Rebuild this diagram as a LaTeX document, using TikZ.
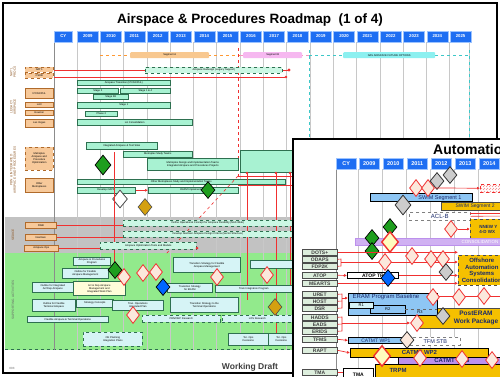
\documentclass[tikz,border=0pt]{standalone}
\usepackage{fontspec}
\setmainfont{Liberation Sans}
\usetikzlibrary{shapes.geometric,arrows.meta,patterns}
\definecolor{hdrblue}{HTML}{1E6EF2}
\definecolor{hdrline}{HTML}{9CC3FF}
\definecolor{mint}{HTML}{A8F2D2}
\definecolor{mintdark}{HTML}{2E7050}
\definecolor{orfill}{HTML}{F7C99A}
\definecolor{ordark}{HTML}{B06A2A}
\definecolor{bandgray}{HTML}{C2C2C2}
\definecolor{bandgreen}{HTML}{92EA8C}
\definecolor{cyanbox}{HTML}{D6F4F6}
\definecolor{gridgray}{HTML}{C8C8C8}
\definecolor{cyanline}{HTML}{3CC8C8}
\definecolor{segA}{HTML}{F8C890}
\definecolor{segB}{HTML}{F6B8F0}
\definecolor{segC}{HTML}{8CF0F0}
\definecolor{ryellow}{HTML}{F5C000}
\definecolor{rblue}{HTML}{8EC6F4}
\definecolor{rpurple}{HTML}{BC90EC}
\definecolor{lblgreen}{HTML}{DDEEDD}
\definecolor{dgreen}{HTML}{1E9E1E}
\definecolor{gold}{HTML}{D4A010}
\definecolor{redl}{HTML}{F03030}
\definecolor{pinkd}{HTML}{FBE8DC}
\definecolor{navy}{HTML}{1A2A6A}
\newcommand\tf{\fontsize{2.6}{3}\selectfont}
\newcommand\mkbox[7]{\node[#2,anchor=north west,inner sep=0pt,minimum width={#5pt-#3pt},minimum height={#6pt-#4pt}] (#1) at (#3,#4) {#7};}
\tikzset{
  yr/.style={fill=hdrblue,draw=hdrline,line width=0.6pt,text=white,font=\fontsize{4.3}{5}\selectfont\bfseries},
  yrf/.style={fill=hdrblue,draw=hdrline,line width=0.6pt,text=white,font=\fontsize{5.5}{6}\selectfont\bfseries},
  mintbox/.style={draw=mintdark,fill=mint,line width=0.6pt,font=\tf,align=center},
  mintdash/.style={draw=mintdark,fill=mint!60,dashed,line width=0.6pt,font=\tf,align=center},
  orbox/.style={draw=ordark,fill=orfill,line width=0.6pt,font=\tf,align=center},
  ordash/.style={draw=ordark,fill=orfill,dashed,line width=0.6pt,font=\tf,align=center},
  cybox/.style={draw=mintdark,fill=cyanbox,line width=0.7pt,font=\tf,align=center},
  cydash/.style={draw=mintdark,fill=cyanbox,dashed,line width=0.7pt,font=\tf,align=center},
  segbar/.style={rounded corners=1pt,font=\tf,align=center},
  dgr/.style={diamond,draw=black,fill=dgreen,line width=0.7pt,inner sep=0pt,minimum width=14,minimum height=17},
  dwh/.style={diamond,draw=black!70,fill=white,line width=0.8pt,inner sep=0pt,minimum width=15,minimum height=18},
  dgold/.style={diamond,draw=black!70,fill=gold,line width=0.6pt,inner sep=0pt,minimum width=14,minimum height=17},
  dpink/.style={diamond,draw=redl,fill=pinkd,line width=0.8pt,inner sep=0pt,minimum width=13,minimum height=17},
  dpinkbig/.style={diamond,draw=redl,fill=yellow!25,line width=1.4pt,inner sep=0pt,minimum width=17,minimum height=21},
  dgray/.style={diamond,draw=black!80,fill=black!20,line width=0.8pt,inner sep=0pt,minimum width=14,minimum height=17},
  dblue/.style={diamond,draw=black,fill=blue!60!cyan,line width=0.7pt,inner sep=0pt,minimum width=14,minimum height=17},
  lbl/.style={fill=lblgreen,draw=black!70,line width=0.6pt,font=\fontsize{5}{5}\selectfont\bfseries,text=black!75},
  redln/.style={draw=redl,line width=0.6pt},
  redar/.style={draw=redl,line width=0.7pt,-{Latex[length=3pt,width=3pt]}},
  vlab/.style={rotate=90,font=\fontsize{3.2}{3.6}\selectfont,text=ordark!80!black,align=center},
}
\begin{document}
\begin{tikzpicture}[x=1pt,y=-1pt]
\useasboundingbox (0,0) rectangle (500,376);
\fill[white] (0,0) rectangle (500,376);
% ================= BACK PANEL =================
\fill[bandgray] (5,217) rectangle (496,253);
\fill[bandgreen] (5,253) rectangle (496,350);
\draw[mintdark,dashed,line width=0.5pt] (5,349) -- (496,349);
\node[font=\fontsize{13.5}{14}\selectfont\bfseries] (title) at (250,20) {Airspace \& Procedures Roadmap~~(1 of 4)};
% grid
\draw[black!45,line width=0.6pt] (54,42) -- (54,350);
\foreach \i in {0,...,16} {\draw[gridgray,line width=0.7pt] ({77+23.3*\i},42) -- ({77+23.3*\i},350);}
\draw[gridgray,line width=0.7pt] (469,42) -- (469,350);
% header
\node[yr,anchor=north west,minimum width=18,minimum height=11,inner sep=0pt] (cy) at (54,30.5) {CY};
\foreach \y [count=\i from 0] in {2009,...,2025} {
  \node[yr,anchor=north west,minimum width=21,minimum height=11,inner sep=0pt] (y\y) at ({77+23.3*\i},30.5) {\y};}
% segment bars
\draw[orange!80,dashed,line width=0.7pt] (100,55) -- (240,55);
\draw[segB!80!red,dashed,line width=0.7pt] (240,55) -- (309,55);
\draw[cyanline,dashed,line width=0.7pt] (309,55) -- (469,55);
\draw[cyanline,dashed,line width=0.8pt] (309,50) -- (309,350);
\draw[cyanline,dashed,line width=0.8pt] (469,50) -- (469,350);
\draw[redl,dashed,line width=0.7pt] (238,48) -- (238,176);
\mkbox{sa}{segbar,fill=segA}{130}{52}{209}{58}{Segment A}
\mkbox{sb}{segbar,fill=segB}{243}{52}{302}{58}{Segment B}
\mkbox{sc}{segbar,fill=segC}{343}{52}{435}{58}{NAS AIRSPACE FUTURE OPTIONS}
% left labels
\node[vlab] (l1) at (13,72) {NAT'L\\PROCS};
\node[vlab] (l2) at (13,107) {LEGACY\\AIRSPACE};
\node[vlab] (l3) at (13,170) {PBN \& INTEGRATED\\AIRSPACE AND PROCEDURES};
\node[vlab] (l4) at (13,235) {SEDICE};
\node[vlab,text=black!60] (l5) at (13,300) {SUPPORTING ACTIVITIES};
\mkbox{n1}{ordash}{25}{67}{53}{72}{NAT'L}
\mkbox{n2}{ordash}{25}{73}{53}{78}{CSDB}
\mkbox{g1}{orbox}{25}{88}{53}{98}{NY/NJ/PHL}
\mkbox{g2}{orbox}{25}{102}{53}{107}{LAX}
\mkbox{g3}{orbox}{25}{110}{53}{115}{Houston}
\mkbox{g4}{orbox}{25}{119}{53}{127}{Las Vegas}
\mkbox{p1}{ordash}{25}{147}{53}{170}{Metroplex\\Airspace and\\Procedure\\Optimization}
\mkbox{p2}{orbox}{25}{178}{53}{192}{Other\\Metroplexes}
\mkbox{s1}{orbox}{25}{222}{56}{228}{SWB}
\mkbox{s2}{orbox}{25}{234}{56}{240}{NextGen}
\mkbox{s3}{orbox}{24}{245}{58}{251}{Airspace Ops}
% NAT'L rows
\draw[redln] (n1.east|-0,70) -- (288,70);
\draw[redln] (n2.east|-0,77) -- (285,77);
\fill[redl] (289,70) circle (1.6); \fill[redl] (286,77) circle (1.4);
\mkbox{nb}{mintdash}{145}{67}{282}{73}{Airspace Redesign (Legacy Support)}
% legacy bars
\mkbox{b1}{mintbox}{77}{80}{170}{85}{Airspace Transition (NY/NJ/PHL)}
\mkbox{b2}{mintbox}{77}{88}{118}{93}{Stage 2}
\mkbox{b3}{mintbox}{120}{88}{170}{93}{Stage 1 \& 4}
\mkbox{b4}{mintbox}{93}{94}{128}{99}{Stage 3B}
\mkbox{b5}{mintbox}{77}{102}{170}{108}{Stage 1}
\mkbox{b6}{mintbox}{85}{111}{117}{116}{Phase 2}
\mkbox{b7}{mintbox}{77}{119}{192}{125}{LA Consolidation}
% PBN
\mkbox{q1}{mintbox}{86}{142}{157}{149}{Integrated Airspace \& Test Sites}
\mkbox{q2}{mintbox}{123}{151}{192}{157}{Metroplex Study Teams}
\mkbox{q3}{mintbox}{147}{158}{238}{170}{Metroplex Design and Implementation Teams\\Integrated Airspace and Procedures Projects}
\mkbox{q4}{mintbox}{240}{150}{296}{172}{}
\mkbox{q5}{mintbox}{77}{179}{285}{184}{Other Metroplexes Study and Implementation Teams}
\mkbox{q6}{mintbox}{77}{187}{135}{193}{Develop OAPM}
\mkbox{q7}{mintbox}{148}{187}{238}{193}{OAPM Implementation}
\draw[redar] (q6.east) -- (q7.west);
\node[dgr,minimum width=16,minimum height=20] (dg1) at (103,165) {};
\node[dwh] (dw1) at (120,199) {};
\node[dgold] (dgo1) at (145,207) {};
\node[dgr] (dg2) at (208,190) {};
% red lines near PBN
\draw[redln] (114,152) -- (114,262);
\draw[redl,dashed,line width=0.6pt] (238,176) -- (166,254);
\foreach \xx/\yb in {247/300,276/345,290/290} {\draw[redln] (\xx,173) -- (\xx,\yb); \fill[redl] (\xx,173) circle (1.3);}
\draw[redln] (238,176) -- (296,176);
\draw[redln] (238,185) -- (296,185);
% gray band
\mkbox{r1}{mintdash}{123}{220}{292}{226}{Define Operational Concept for Airspace Flexibility (NAS Wide)}
\mkbox{r2}{mintdash}{123}{231}{292}{237}{Develop NextGen Airspace Design Criteria (Sector Structure)}
\mkbox{r3}{mintdash}{100}{242}{196}{249}{Airspace Optimization Tools and Models}
\draw[redln] (s1.east) -- (r1.west|-s1.east);
\draw[redln] (s2.east) -- (r2.west|-s2.east);
\draw[redln] (s3.east) -- (r3.west|-s3.east);
\fill[redl] (197,248) circle (1.5);
% supporting activities
\mkbox{t1}{cybox}{73}{257}{110}{265}{Airspace \& Procedures\\Program}
\mkbox{t2}{cybox}{62}{268}{108}{278}{Outline for Flexible\\Airspace Management}
\mkbox{t3}{cybox}{32}{282}{73}{292}{Outline for Integrated\\Arr/Dep Airspace}
\mkbox{t4}{cybox,fill=yellow!15}{73}{281}{125}{295}{Arr \& Dep Airspace\\Management and\\Integrated Work Plan}
\mkbox{t5}{cybox}{32}{299}{75}{311}{Outline for Flexible\\Terminal Airspace}
\mkbox{t6}{cybox}{76}{299}{113}{307}{Strategy Concepts}
\mkbox{t7}{cybox}{112}{300}{163}{310}{Tran. Operations\\Integrated Plan}
\mkbox{t8}{cybox}{27}{316}{108}{322}{Flexible Airspace \& Terminal Operations}
\mkbox{t9}{cydash}{83}{332}{142}{346}{OE Planning\\Integration Plans}
\mkbox{t10}{cybox}{173}{257}{240}{272}{Transition Strategy for Flexible\\Airspace Management}
\mkbox{t11}{cybox}{250}{260}{292}{268}{}
\mkbox{t12}{cybox}{167}{283}{212}{292}{Transition Strategy\\for ERAM}
\mkbox{t13}{cybox}{215}{285}{292}{292}{Train Integration Program}
\mkbox{t14}{cybox}{170}{297}{238}{312}{Transition Strategy to the\\Terminal Operations}
\mkbox{t15}{cydash}{142}{315}{220}{322}{PBN/OEP Research}
\mkbox{t16}{cydash}{222}{315}{292}{322}{LOS Research}
\mkbox{t17}{cybox}{228}{333}{268}{345}{Ter. Ops\\Decisions}
\mkbox{t18}{cybox}{268}{333}{294}{345}{Ter. Ops\\Decisions}
\node[dgr] (dg3) at (115,270) {};
\node[dpink] (dp1) at (124,277) {};
\node[dpink] (dp2) at (143,273) {};
\node[dpink] (dp3) at (156,272) {};
\node[dblue] (db1) at (163,287) {};
\node[dpink] (dp4) at (133,315) {};
\node[dpink] (dp5) at (217,277) {};
\node[dpink] (dp6) at (267,275) {};
\node[dgold] (dgo2) at (275,307) {};
\node[font=\fontsize{8.5}{9}\selectfont\bfseries,text=black!75] (wd) at (250,367) {Working Draft};
\node[font=\fontsize{3}{3}\selectfont,text=black!60] (pg) at (12,368) {003};
\draw[line width=1.6pt] (3,3) rectangle (497,373);
% ================= FRONT PANEL =================
\fill[white] (293,139) rectangle (505,380);
\draw[line width=1.6pt] (293,380) -- (293,139) -- (505,139);
\node[font=\fontsize{14}{15}\selectfont\bfseries,anchor=west,inner sep=0pt] (ftitle) at (433,151) {Automation Roadmap};
\draw[black!45,line width=0.6pt] (336,169) -- (336,380);
\foreach \i in {0,...,6} {\draw[gridgray,line width=0.7pt] ({358+24*\i},169) -- ({358+24*\i},380);}
\node[yrf,anchor=north west,minimum width=20,minimum height=11,inner sep=0pt] (fcy) at (336,158) {CY};
\foreach \y [count=\i from 0] in {2009,...,2014} {
  \node[yrf,anchor=north west,minimum width=20,minimum height=11,inner sep=0pt] (f\y) at ({359+24*\i},158) {\y};}
% top part
\mkbox{sw2}{draw=black!70,fill=ryellow,line width=0.6pt}{441}{202}{505}{210}{}
\node[font=\fontsize{5}{5.5}\selectfont,text=navy,anchor=west] (sw2t) at (452,206) {SWIM Segment 2};
\mkbox{sw1}{draw=black,fill=rblue,line width=1pt}{370}{193}{472}{201}{}
\node[font=\fontsize{5.5}{6}\selectfont,text=navy] (sw1t) at (440,198) {SWIM Segment 1};
\mkbox{hb}{draw=redl,dashed,pattern=north east lines,pattern color=redl!60}{480}{184}{505}{192}{}
\mkbox{acl}{draw=black!50,dashed,fill=white,line width=0.6pt,font=\fontsize{6}{6}\selectfont,text=navy}{409}{212}{470}{220}{ACL-B}
\draw[redln] (acl.east) -- (505,216);
\draw[redln] (470,213) -- (505,213);
\mkbox{nnew}{draw=black!70,dashed,fill=ryellow,line width=0.6pt,font=\fontsize{4.5}{5}\selectfont\bfseries,align=left,text=navy}{470}{219}{505}{240}{~NNEW Y\\~4-D WX}
\mkbox{cons}{fill=rpurple!70,draw=rpurple,line width=0.4pt}{355}{238}{505}{245}{}
\node[font=\fontsize{4.5}{5}\selectfont,text=white] (const) at (480,242) {CONSOLIDATION};
\node[dpink] (fd1) at (416,188) {};
\node[dpink] (fd2) at (428,188) {};
\node[dgray] (fd3) at (437,181) {};
\node[dgray] (fd4) at (450,175) {};
\draw[redar] (fd2.east) -- (hb.west);
\node[dgray,minimum width=16,minimum height=20] (fd5) at (403,205) {};
\node[dpink] (fd6) at (451,229) {};
\draw[redar] (fd6.east) -- (nnew.west|-fd6.east);
\node[dgr] (fg1) at (390,227) {};
\node[dgr] (fg2) at (372,238) {};
\node[dgr] (fg3) at (372,251) {};
\node[dpinkbig] (fd7) at (390,242) {};
% labels
\mkbox{L1}{lbl}{302}{249}{337}{255}{DOTS+}
\mkbox{L2}{lbl}{302}{256}{337}{262}{ODAPS}
\mkbox{L3}{lbl}{302}{263}{337}{269}{FDP2K}
\mkbox{L4}{lbl}{302}{272}{337}{278}{ATOP}
\mkbox{L5}{lbl}{302}{280}{337}{286}{MEARTS}
\mkbox{L6}{lbl}{302}{291}{337}{297}{URET}
\mkbox{L7}{lbl}{302}{298}{337}{304}{HOST}
\mkbox{L8}{lbl}{302}{305}{337}{311}{DSR}
\mkbox{L9}{lbl}{302}{314}{337}{320}{HADDS}
\mkbox{L10}{lbl}{302}{321}{337}{327}{EADS}
\mkbox{L11}{lbl}{302}{328}{337}{334}{ERIDS}
\mkbox{L12}{lbl}{302}{336}{337}{342}{TFMS}
\mkbox{L13}{lbl}{302}{347}{337}{353}{RAPT}
\mkbox{L14}{lbl}{302}{369}{337}{375}{TMA}
% offshore
\mkbox{off}{draw=black!70,dashed,fill=ryellow,line width=0.6pt,font=\fontsize{6}{6.5}\selectfont\bfseries,text=navy,align=center}{458}{255}{505}{285}{Offshore\\Automation\\Systems\\Consolidation}
\draw[redar] (L1.east) -- (off.west|-L1.east);
\draw[redln] (L2.east) -- (341,259) -- (341,266) -- (L3.east);
\draw[redar] (341,262) -- (off.west|-0,262);
\mkbox{atr}{draw=black,fill=white,line width=0.9pt,font=\fontsize{5}{5}\selectfont\bfseries}{347}{272}{398}{278}{ATOP TR}
\draw[redar] (L4.east) -- (atr.west);
\draw[redar] (atr.east) -- (off.west|-atr.east);
\draw[redar] (L5.east) -- (off.west|-L5.east);
\node[dpink] (fe1) at (385,262) {};
\node[dpink] (fe2) at (412,256) {};
\node[dpink] (fe3) at (431,259) {};
\node[dpink] (fe4) at (443,259) {};
\node[dgray] (fe5) at (446,272) {};
\node[dblue] (fe6) at (388,278) {};
% ERAM
\mkbox{post}{draw=black!70,fill=ryellow,line width=0.6pt}{418}{308}{505}{328}{}
\node[font=\fontsize{6.5}{7.5}\selectfont\bfseries,text=navy,align=center] (postt) at (476,318) {PostERAM\\Work Package};
\mkbox{eram}{draw=black,fill=rblue,line width=1pt}{348}{293}{437}{315}{}
\node[font=\fontsize{6}{6}\selectfont,text=navy,anchor=west] (eramt) at (349,297) {ERAM Program Baseline};
\mkbox{r2b}{draw=black,fill=rblue,line width=0.6pt,font=\fontsize{4}{4}\selectfont}{370}{305}{405}{313}{R2}
\mkbox{r1b}{draw=black,fill=cyanbox,line width=0.6pt,font=\fontsize{4}{4}\selectfont}{349}{302}{373}{308}{R1}
\draw[black!60,dashed,line width=0.5pt] (405,309) -- (437,309);
\node[font=\fontsize{4}{4}\selectfont] (r3t) at (420,312) {R3};
\draw[redln] (L6.east) -- (342,294) -- (342,308) -- (L8.east);
\draw[redln] (L7.east) -- (342,301);
\draw[redar] (342,298) -- (eram.west|-0,298);
\draw[redln] (L9.east) -- (342,317) -- (342,331) -- (L11.east);
\draw[redln] (L10.east) -- (342,324);
\draw[redln] (437,296) -- (505,296);
\node[dpink] (fe7) at (433,297) {};
\node[dpink] (fe8) at (459,297) {};
\node[dpink] (fe9) at (484,296) {};
\node[dgray] (fe10) at (443,316) {};
\node[dpink] (fe11) at (417,323) {};
\draw[redar] (342,323) -- (fe11.west);
% TFMS etc
\mkbox{wp1}{draw=black,fill=rblue,line width=0.8pt,font=\fontsize{5}{5}\selectfont,text=navy}{348}{337}{403}{343}{CATMT WP1}
\draw[redar] (L12.east) -- (wp1.west);
\mkbox{tfm}{draw=black!50,dashed,fill=white,line width=0.6pt,font=\fontsize{5.5}{6}\selectfont,text=navy}{410}{337}{460}{345}{TFM STB}
\node[dgray,fill=pinkd] (fe12) at (407,340) {};
\mkbox{wp2}{draw=black,fill=ryellow,line width=0.8pt,font=\fontsize{6}{6}\selectfont\bfseries,text=navy}{350}{348}{488}{357}{CATMT WP2}
\draw[redar] (L13.east) -- (wp2.west);
\mkbox{wp3}{draw=black,fill=rpurple,line width=0.8pt,font=\fontsize{6}{6}\selectfont\bfseries,text=navy}{398}{357}{505}{364}{CATMT WP3}
\mkbox{trpm}{draw=black,fill=ryellow,line width=0.8pt}{375}{364}{505}{380}{}
\node[font=\fontsize{6}{6}\selectfont\bfseries,text=navy] (trpmt) at (398,370) {TRPM};
\mkbox{tma}{draw=black,fill=white,line width=0.8pt,font=\fontsize{5}{5}\selectfont\bfseries}{343}{368}{373}{380}{TMA}
\draw[redln] (L14.east) -- (tma.west|-L14.east);
\node[dpinkbig] (fe13) at (382,356) {};
\node[dpink] (fe14) at (420,358) {};
\node[dpink] (fe15) at (462,359) {};
\node[dpink] (fe16) at (492,360) {};
\end{tikzpicture}
\end{document}
